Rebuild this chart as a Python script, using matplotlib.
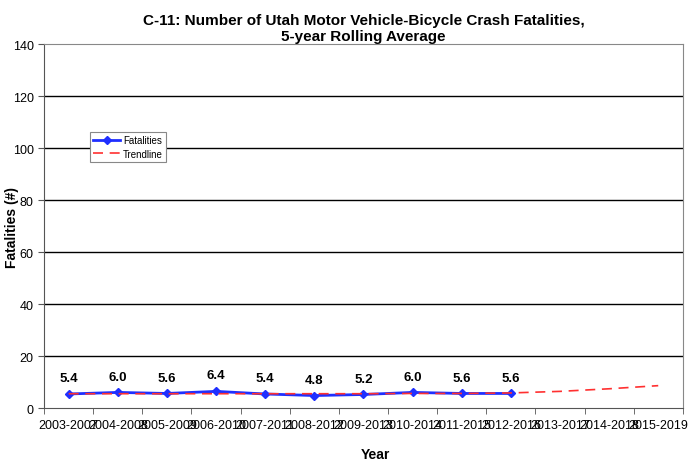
import numpy as np
import matplotlib.pyplot as plt

plt.rcParams['font.family'] = ['Liberation Sans', 'DejaVu Sans']

years = ['2003-2007', '2004-2008', '2005-2009', '2006-2010', '2007-2011',
         '2008-2012', '2009-2013', '2010-2014', '2011-2015', '2012-2016',
         '2013-2017', '2014-2018', '2015-2019']
fatalities = [5.4, 6.0, 5.6, 6.4, 5.4, 4.8, 5.2, 6.0, 5.6, 5.6]
trend = [5.5, 5.5, 5.5, 5.5, 5.5, 5.5, 5.5, 5.6, 5.6, 5.8, 6.4, 7.4, 8.6]

fig = plt.figure(figsize=(6.89, 4.64), dpi=100)
ax = fig.add_axes([0.064, 0.1185, 0.927, 0.7845])

x = np.arange(len(years))
xf = np.arange(len(fatalities))

ax.set_xlim(-0.5, len(years) - 0.5)
ax.set_ylim(0, 140)
ax.set_yticks(range(0, 141, 20))
for v in range(20, 140, 20):
    ax.axhline(v, color='black', lw=1, zorder=0)

ax.plot(xf, fatalities, color='#1f2fff', lw=2, marker='D', ms=4.5, label='Fatalities', zorder=3)
ax.plot(x, trend, color='#ff3030', lw=1.2, ls=(0, (6, 4)), label='Trendline', zorder=4)

# labels on the points
for xi, v in zip(xf, fatalities):
    ax.text(xi, v + 3.8, f'{v:.1f}', ha='center', va='bottom', fontsize=9.5, fontweight='bold')

ax.set_xticks(x)
ax.set_xticklabels(years, fontsize=9)
ax.set_xticks(np.arange(-0.5, len(years)), minor=True)
ax.tick_params(axis='x', which='major', length=0, pad=8)
ax.tick_params(axis='x', which='minor', length=4, color='#555555')
ax.tick_params(axis='y', labelsize=9, length=4, color='#555555')

for s in ax.spines.values():
    s.set_color('#888888')
ax.spines['left'].set_color('#555555')
ax.spines['bottom'].set_color('#555555')

ax.set_title('C-11: Number of Utah Motor Vehicle-Bicycle Crash Fatalities,\n5-year Rolling Average',
             fontsize=11, fontweight='bold', pad=3)
ax.set_ylabel('Fatalities (#)', fontsize=10, fontweight='bold')
ax.yaxis.set_label_coords(-25 / 639, 0.5)
fig.text(375 / 689, 1 - 455 / 464, 'Year', ha='center', va='center', fontsize=10, fontweight='bold')

leg = ax.legend(loc='upper left', bbox_to_anchor=(0.072, 0.757), fontsize=7,
                frameon=True, fancybox=False, edgecolor='#888888', framealpha=1,
                handlelength=2.8, handletextpad=0.3, borderpad=0.3, labelspacing=0.35,
                borderaxespad=0)
leg.get_frame().set_linewidth(0.8)

fig.savefig('out.png', dpi=100)
